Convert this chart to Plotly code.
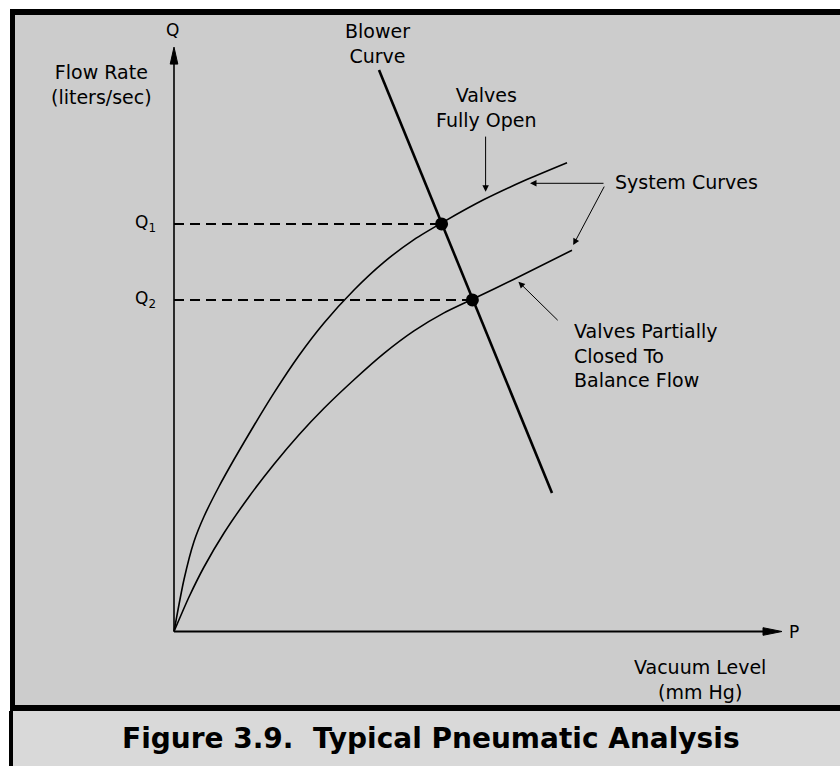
import plotly.graph_objects as go

# ---------------- data (arbitrary units: P = vacuum level, Q = flow rate) -------------
P_UPPER = [0, 0.25, 0.5, 0.75, 1.125, 1.5, 2.0, 2.5, 3.125, 3.75, 4.5, 5.25, 6.0, 6.75, 7.75, 8.75, 9.825]
Q_UPPER = [0, 1.3, 2.25, 2.875, 3.625, 4.3, 5.15, 5.965, 6.9, 7.713, 8.538, 9.235, 9.798, 10.248,
           10.798, 11.268, 11.72]

P_LOWER = [0, 0.375, 0.75, 1.25, 1.875, 2.5, 3.125, 3.75, 4.5, 5.25, 6.0, 6.75, 7.5, 8.5, 9.95]
Q_LOWER = [0, 0.8625, 1.6125, 2.4625, 3.369, 4.181, 4.919, 5.581, 6.294, 6.954, 7.516, 7.966,
           8.326, 8.806, 9.531]

P_BLOWER = [5.125, 9.45]
Q_BLOWER = [14.04, 3.46]

P_OPERATING = [6.69, 7.46]
Q_OPERATING = [10.19, 8.29]
Q_LABELS = ["Q<sub>1</sub>", "Q<sub>2</sub>"]

P_AXIS_END = 15.2
Q_AXIS_END = 14.61

# ---------------- figure ----------------
W, H = 840, 766
FONT = "DejaVu Sans, Liberation Sans, Arial, sans-serif"

fig = go.Figure()

# dashed reference lines
for p, q in zip(P_OPERATING, Q_OPERATING):
    fig.add_trace(go.Scatter(x=[0, p], y=[q, q], mode="lines",
                             line=dict(color="black", width=2, dash="10px,6px"),
                             hoverinfo="skip"))

fig.add_trace(go.Scatter(x=P_UPPER, y=Q_UPPER, mode="lines",
                         line=dict(color="black", width=1.6, shape="spline", smoothing=0.7),
                         name="Valves Fully Open"))
fig.add_trace(go.Scatter(x=P_LOWER, y=Q_LOWER, mode="lines",
                         line=dict(color="black", width=1.6, shape="spline", smoothing=0.7),
                         name="Valves Partially Closed"))
fig.add_trace(go.Scatter(x=P_BLOWER, y=Q_BLOWER, mode="lines",
                         line=dict(color="black", width=2.6), name="Blower Curve"))
fig.add_trace(go.Scatter(x=P_OPERATING, y=Q_OPERATING, mode="markers",
                         marker=dict(color="black", size=13), name="Operating points"))

shapes = [
    # main panel frame
    dict(type="rect", xref="paper", yref="paper", x0=10 / W, x1=1.02, y0=1 - 711 / H, y1=1 - 9 / H,
         fillcolor="black", line=dict(width=0), layer="below"),
    dict(type="rect", xref="paper", yref="paper", x0=15 / W, x1=1.02, y0=1 - 705 / H, y1=1 - 15 / H,
         fillcolor="#cccccc", line=dict(width=0), layer="below"),
    # caption box
    dict(type="rect", xref="paper", yref="paper", x0=9 / W, x1=1.02, y0=-0.02, y1=1 - 711 / H,
         fillcolor="black", line=dict(width=0), layer="below"),
    dict(type="rect", xref="paper", yref="paper", x0=13 / W, x1=1.02, y0=-0.02, y1=1 - 711 / H,
         fillcolor="#d9d9d9", line=dict(width=0), layer="below"),
    # axes lines
    dict(type="line", xref="x", yref="y", x0=0, y0=0, x1=P_AXIS_END - 0.3, y1=0,
         line=dict(color="black", width=2)),
    dict(type="line", xref="x", yref="y", x0=0, y0=0, x1=0, y1=Q_AXIS_END - 0.3,
         line=dict(color="black", width=1.6)),
    # arrow heads of axes
    dict(type="path", xref="x", yref="y", xsizemode="pixel", ysizemode="pixel",
         xanchor=P_AXIS_END, yanchor=0, path="M0,0 L-19,-3.8 L-19,3.8 Z",
         fillcolor="black", line=dict(color="black", width=1)),
    dict(type="path", xref="x", yref="y", xsizemode="pixel", ysizemode="pixel",
         xanchor=0, yanchor=Q_AXIS_END, path="M0,0 L-3.8,-17 L3.8,-17 Z",
         fillcolor="black", line=dict(color="black", width=1)),
]

TXT = dict(family=FONT, size=19, color="black")
SMALL = dict(family=FONT, size=17, color="black")
annotations = [
    dict(x=-0.03, y=15.04, text="Q", showarrow=False, font=SMALL),
    dict(x=-1.825, y=13.675, text="Flow Rate<br>(liters/sec)", showarrow=False, font=TXT),
    dict(x=15.33, y=0.0, text="P", xanchor="left", showarrow=False, font=SMALL),
    dict(x=13.15, y=-1.19, text="Vacuum Level<br>(mm Hg)", showarrow=False, font=TXT),
    dict(x=5.075, y=14.7, text="Blower<br>Curve", showarrow=False, font=TXT),
    dict(x=7.8, y=13.1, text="Valves<br>Fully Open", showarrow=False, font=TXT),
    dict(x=10.975, y=11.24, text="System Curves", xanchor="left", showarrow=False, font=TXT),
    dict(x=9.94, y=6.9, text="Valves Partially<br>Closed To<br>Balance Flow", xanchor="left",
         align="left", showarrow=False, font=TXT),
    dict(xref="paper", yref="paper", x=431 / W, y=1 - 738 / H, xanchor="center", yanchor="middle",
         text="<b>Figure 3.9.&nbsp; Typical Pneumatic Analysis</b>", showarrow=False,
         font=dict(family=FONT, size=28, color="black")),
]
for lab, q in zip(Q_LABELS, Q_OPERATING):
    annotations.append(dict(x=-0.4, y=q, text=lab, xanchor="right", showarrow=False, font=SMALL))

ARROW = dict(showarrow=True, arrowhead=2, arrowsize=1.3, arrowwidth=1, arrowcolor="black",
             axref="x", ayref="y", text="")
annotations += [
    dict(x=7.79, y=10.995, ax=7.79, ay=12.41, **ARROW),
    dict(x=8.9, y=11.205, ax=10.775, ay=11.205, **ARROW),
    dict(x=9.98, y=9.66, ax=10.775, ay=11.16, **ARROW),
    dict(x=8.61, y=8.745, ax=9.63, ay=7.745, **ARROW),
]

fig.update_layout(
    width=W, height=H,
    margin=dict(l=0, r=0, t=0, b=0),
    paper_bgcolor="white", plot_bgcolor="rgba(0,0,0,0)",
    showlegend=False,
    xaxis=dict(range=[-4.35, 16.65], visible=False, showgrid=False, zeroline=False, fixedrange=True),
    yaxis=dict(range=[-3.3625, 15.7875], visible=False, showgrid=False, zeroline=False, fixedrange=True),
    shapes=shapes, annotations=annotations,
)

fig.write_html(
    "out.html",
    config={"displayModeBar": False},
    post_script="document.body.style.margin='0';document.documentElement.style.overflow='hidden';",
)
